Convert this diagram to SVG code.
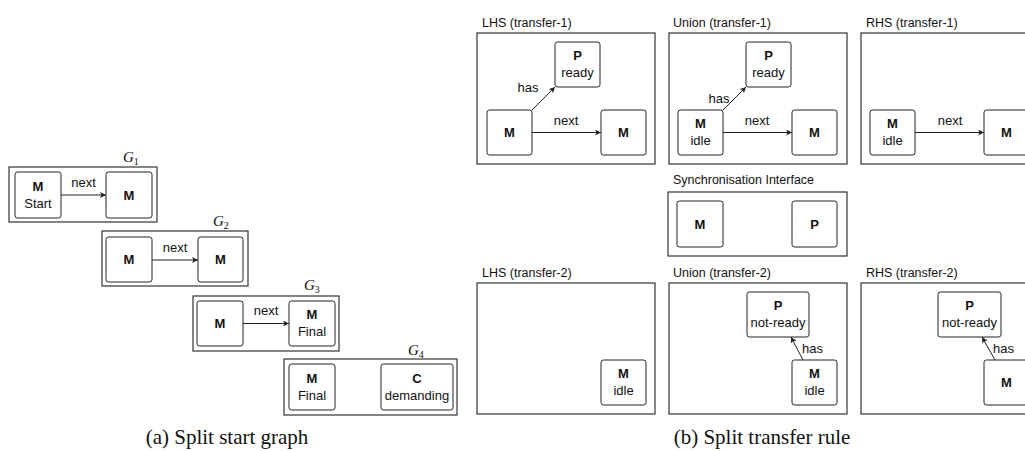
<svg xmlns="http://www.w3.org/2000/svg" width="1025" height="451" viewBox="0 0 1025 451">
  <style>
    .frame { fill: #fff; stroke: #333; stroke-width: 1.2; }
    .node { fill: #fff; stroke: #222; stroke-width: 1; }
    .edge { fill: none; stroke: #222; stroke-width: 1; marker-end: url(#arrow); }
    text { font-family: "Liberation Sans", Arial, sans-serif; fill: #111; }
    .nm { font-size: 13px; font-weight: bold; text-anchor: middle; }
    .nl { font-size: 13px; text-anchor: middle; }
    .el { font-size: 13px; }
    .title { font-size: 12.5px; }
    .gl { font-family: "Liberation Serif", "Times New Roman", serif; font-style: italic; font-size: 15px; }
    .gs { font-family: "Liberation Serif", "Times New Roman", serif; font-size: 10px; font-style: normal; }
    .cap { font-family: "Liberation Serif", "Times New Roman", serif; font-size: 21px; text-anchor: middle; }
  </style>
  <defs>
    <marker id="arrow" viewBox="0 0 8 8" refX="8" refY="4" markerWidth="6" markerHeight="6" orient="auto" markerUnits="userSpaceOnUse">
      <path d="M0,0 L8,4 L0,8 L2,4 Z" fill="#222"/>
    </marker>
  </defs>

  <rect width="1025" height="451" fill="#fff"/>

  <!-- (a) start graph split into G1..G4 -->
  <g id="g1">
    <rect class="frame" x="9" y="167" width="148" height="55"/>
    <text class="gl" x="123" y="162">G<tspan class="gs" dy="3">1</tspan></text>
  </g>
  <g id="g1-m-start">
    <rect class="node" x="15" y="172" width="46" height="46" rx="2.5"/>
    <text class="nm" x="38" y="191">M</text>
    <text class="nl" x="38" y="208">Start</text>
  </g>
  <g id="g1-m">
    <rect class="node" x="106" y="172" width="46" height="46" rx="2.5"/>
    <text class="nm" x="129" y="200">M</text>
  </g>

  <g id="g2">
    <rect class="frame" x="102" y="231" width="146" height="55"/>
    <text class="gl" x="213" y="226">G<tspan class="gs" dy="3">2</tspan></text>
  </g>
  <g id="g2-m1">
    <rect class="node" x="106" y="237" width="46" height="45" rx="2.5"/>
    <text class="nm" x="129" y="264">M</text>
  </g>
  <g id="g2-m2">
    <rect class="node" x="198" y="237" width="45" height="45" rx="2.5"/>
    <text class="nm" x="220.5" y="264">M</text>
  </g>

  <g id="g3">
    <rect class="frame" x="193" y="296" width="146" height="55"/>
    <text class="gl" x="304" y="290">G<tspan class="gs" dy="3">3</tspan></text>
  </g>
  <g id="g3-m">
    <rect class="node" x="197" y="301" width="46" height="45" rx="2.5"/>
    <text class="nm" x="220" y="328">M</text>
  </g>
  <g id="g3-m-final">
    <rect class="node" x="289" y="301" width="46" height="45" rx="2.5"/>
    <text class="nm" x="312" y="319">M</text>
    <text class="nl" x="312" y="336">Final</text>
  </g>

  <g id="g4">
    <rect class="frame" x="284" y="359" width="173" height="56"/>
    <text class="gl" x="408" y="355">G<tspan class="gs" dy="3">4</tspan></text>
  </g>
  <g id="g4-m-final">
    <rect class="node" x="289" y="364" width="46" height="46" rx="2.5"/>
    <text class="nm" x="312" y="383">M</text>
    <text class="nl" x="312" y="400">Final</text>
  </g>
  <g id="g4-c-demanding">
    <rect class="node" x="381" y="364" width="72" height="46" rx="2.5"/>
    <text class="nm" x="417" y="383">C</text>
    <text class="nl" x="417" y="400">demanding</text>
  </g>

  <!-- (b) transfer rule split: panels -->
  <g id="lhs1">
    <text class="title" x="482" y="27">LHS (transfer-1)</text>
    <rect class="frame" x="477" y="33" width="178" height="131"/>
  </g>
  <g id="union1">
    <text class="title" x="673" y="27">Union (transfer-1)</text>
    <rect class="frame" x="669" y="33" width="178" height="131"/>
  </g>
  <g id="rhs1">
    <text class="title" x="866" y="27">RHS (transfer-1)</text>
    <rect class="frame" x="861" y="33" width="200" height="131"/>
  </g>
  <g id="sync">
    <text class="title" x="673" y="184">Synchronisation Interface</text>
    <rect class="frame" x="668" y="192" width="179" height="64"/>
  </g>
  <g id="lhs2">
    <text class="title" x="482" y="277">LHS (transfer-2)</text>
    <rect class="frame" x="477" y="283" width="178" height="131"/>
  </g>
  <g id="union2">
    <text class="title" x="673" y="277">Union (transfer-2)</text>
    <rect class="frame" x="669" y="283" width="178" height="131"/>
  </g>
  <g id="rhs2">
    <text class="title" x="866" y="277">RHS (transfer-2)</text>
    <rect class="frame" x="861" y="283" width="200" height="131"/>
  </g>

  <!-- LHS transfer-1 nodes -->
  <g id="lhs1-p">
    <rect class="node" x="555" y="42" width="45" height="45" rx="2.5"/>
    <text class="nm" x="577.5" y="60">P</text>
    <text class="nl" x="577.5" y="77">ready</text>
  </g>
  <g id="lhs1-m1">
    <rect class="node" x="487" y="110" width="45" height="45" rx="2.5"/>
    <text class="nm" x="509.5" y="137">M</text>
  </g>
  <g id="lhs1-m2">
    <rect class="node" x="601" y="110" width="45" height="45" rx="2.5"/>
    <text class="nm" x="623.5" y="137">M</text>
  </g>

  <!-- Union transfer-1 nodes -->
  <g id="union1-p">
    <rect class="node" x="746" y="42" width="45" height="45" rx="2.5"/>
    <text class="nm" x="768.5" y="60">P</text>
    <text class="nl" x="768.5" y="77">ready</text>
  </g>
  <g id="union1-m-idle">
    <rect class="node" x="678" y="110" width="45" height="45" rx="2.5"/>
    <text class="nm" x="700.5" y="128">M</text>
    <text class="nl" x="700.5" y="145">idle</text>
  </g>
  <g id="union1-m">
    <rect class="node" x="792" y="110" width="45" height="45" rx="2.5"/>
    <text class="nm" x="814.5" y="137">M</text>
  </g>

  <!-- RHS transfer-1 nodes -->
  <g id="rhs1-m-idle">
    <rect class="node" x="870" y="110" width="45" height="45" rx="2.5"/>
    <text class="nm" x="892.5" y="128">M</text>
    <text class="nl" x="892.5" y="145">idle</text>
  </g>
  <g id="rhs1-m">
    <rect class="node" x="984" y="110" width="45" height="45" rx="2.5"/>
    <text class="nm" x="1006.5" y="137">M</text>
  </g>

  <!-- Synchronisation interface nodes -->
  <g id="sync-m">
    <rect class="node" x="677" y="201" width="46" height="46" rx="2.5"/>
    <text class="nm" x="700" y="229">M</text>
  </g>
  <g id="sync-p">
    <rect class="node" x="792" y="201" width="45" height="46" rx="2.5"/>
    <text class="nm" x="814.5" y="229">P</text>
  </g>

  <!-- LHS transfer-2 nodes -->
  <g id="lhs2-m-idle">
    <rect class="node" x="601" y="360" width="45" height="45" rx="2.5"/>
    <text class="nm" x="623.5" y="378">M</text>
    <text class="nl" x="623.5" y="395">idle</text>
  </g>

  <!-- Union transfer-2 nodes -->
  <g id="union2-p">
    <rect class="node" x="747" y="292" width="62" height="45" rx="2.5"/>
    <text class="nm" x="778" y="310">P</text>
    <text class="nl" x="778" y="327">not-ready</text>
  </g>
  <g id="union2-m-idle">
    <rect class="node" x="792" y="360" width="45" height="45" rx="2.5"/>
    <text class="nm" x="814.5" y="378">M</text>
    <text class="nl" x="814.5" y="395">idle</text>
  </g>

  <!-- RHS transfer-2 nodes -->
  <g id="rhs2-p">
    <rect class="node" x="938" y="292" width="63" height="45" rx="2.5"/>
    <text class="nm" x="969.5" y="310">P</text>
    <text class="nl" x="969.5" y="327">not-ready</text>
  </g>
  <g id="rhs2-m">
    <rect class="node" x="984" y="360" width="45" height="45" rx="2.5"/>
    <text class="nm" x="1006.5" y="387">M</text>
  </g>

  <!-- connectors -->
  <g id="edges">
    <line class="edge" x1="61" y1="195" x2="106" y2="195"/>
    <text class="el" x="83.5" y="187" text-anchor="middle">next</text>

    <line class="edge" x1="152" y1="260" x2="198" y2="260"/>
    <text class="el" x="175" y="252" text-anchor="middle">next</text>

    <line class="edge" x1="243" y1="323.5" x2="289" y2="323.5"/>
    <text class="el" x="266" y="315" text-anchor="middle">next</text>

    <line class="edge" x1="532" y1="132.5" x2="601" y2="132.5"/>
    <text class="el" x="566" y="125" text-anchor="middle">next</text>
    <line class="edge" x1="532" y1="110" x2="555" y2="87"/>
    <text class="el" x="528" y="92" text-anchor="middle">has</text>

    <line class="edge" x1="723" y1="132.5" x2="792" y2="132.5"/>
    <text class="el" x="757" y="125" text-anchor="middle">next</text>
    <line class="edge" x1="723" y1="110" x2="746" y2="87"/>
    <text class="el" x="719" y="103" text-anchor="middle">has</text>

    <line class="edge" x1="915" y1="132.5" x2="984" y2="132.5"/>
    <text class="el" x="950" y="125" text-anchor="middle">next</text>

    <line class="edge" x1="803" y1="360" x2="791" y2="337"/>
    <text class="el" x="802" y="353">has</text>

    <line class="edge" x1="995" y1="360" x2="982" y2="337"/>
    <text class="el" x="993" y="353">has</text>
  </g>

  <!-- captions -->
  <text class="cap" x="227" y="444">(a) Split start graph</text>
  <text class="cap" x="762" y="444">(b) Split transfer rule</text>
</svg>
